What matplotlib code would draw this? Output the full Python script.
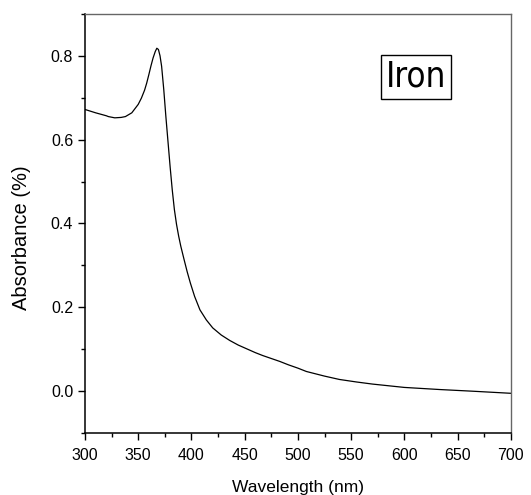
import numpy as np
import matplotlib.pyplot as plt
from matplotlib.ticker import MultipleLocator

plt.rcParams['font.family'] = ['Liberation Sans', 'DejaVu Sans']

# UV-Vis absorbance
wavelength = [300, 310, 320, 322, 328, 334, 338, 344, 350, 353, 356, 358,
              360, 362, 364, 366, 367.5, 369, 370.5, 372, 374, 376, 378,
              380, 382, 384, 386, 388, 390, 393, 396, 399, 403, 408, 414,
              420, 428, 436, 444, 452, 460, 467, 475, 483, 491, 500, 508,
              525, 539, 555, 570, 585, 600, 633, 664, 700]
absorbance = [0.672, 0.664, 0.657, 0.655, 0.652, 0.653, 0.655, 0.664, 0.684,
              0.699, 0.718, 0.735, 0.755, 0.776, 0.795, 0.81, 0.818, 0.815,
              0.80, 0.775, 0.72, 0.655, 0.595, 0.535, 0.48, 0.433, 0.398,
              0.37, 0.346, 0.315, 0.285, 0.258, 0.226, 0.194, 0.17, 0.151,
              0.134, 0.121, 0.11, 0.101, 0.092, 0.085, 0.078, 0.071, 0.063,
              0.055, 0.047, 0.036, 0.028, 0.022, 0.017, 0.013, 0.009, 0.004,
              0.0, -0.005]

fig = plt.figure(figsize=(5.31, 4.95), dpi=100)
ax = fig.add_axes([0.160, 0.125, 0.802, 0.847])

ax.plot(wavelength, absorbance, color='black', lw=0.9)

ax.set_xlim(300, 700)
ax.set_ylim(-0.1, 0.9)
ax.xaxis.set_major_locator(MultipleLocator(50))
ax.xaxis.set_minor_locator(MultipleLocator(25))
ax.yaxis.set_minor_locator(MultipleLocator(0.1))
ax.set_yticks([0.0, 0.2, 0.4, 0.6, 0.8])
ax.tick_params(which='major', direction='out', length=5, width=1,
               labelsize=11.5, top=False, right=False)
ax.tick_params(axis='x', which='major', pad=6)
ax.tick_params(which='minor', direction='out', length=3, width=1,
               top=False, right=False)

for s in ['left', 'bottom']:
    ax.spines[s].set_linewidth(1.1)
    ax.spines[s].set_color('black')
for s in ['top', 'right']:
    ax.spines[s].set_linewidth(1.0)
    ax.spines[s].set_color('#666666')

ax.set_xlabel('Wavelength (nm)', fontsize=12.5, labelpad=12)
ax.set_ylabel('Absorbance (%)', fontsize=14.5)
ax.yaxis.set_label_coords(-0.127, 0.467)

ax.text(0.777, 0.85, 'Iron', transform=ax.transAxes, fontsize=25,
        family=['Liberation Sans Narrow', 'DejaVu Sans'],
        stretch='condensed', ha='center', va='center',
        bbox=dict(boxstyle='square,pad=0.14', fc='white', ec='black', lw=1))

fig.savefig('out.png', dpi=100)
